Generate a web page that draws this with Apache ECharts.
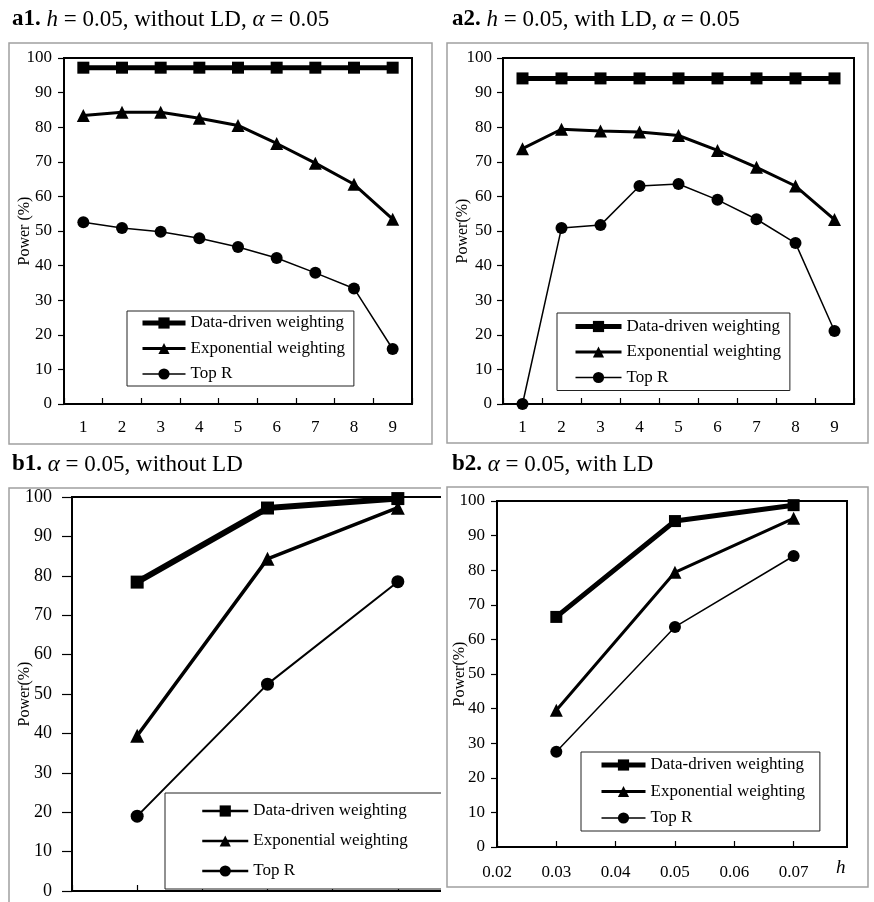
<!DOCTYPE html>
<html><head><meta charset="utf-8">
<script src="https://cdn.jsdelivr.net/npm/echarts@6/dist/echarts.min.js"></script>
<style>html,body{margin:0;padding:0;background:#fff}#c{width:874px;height:902px}</style>
</head><body><div id="c"></div>
<script>
// ---------- data ----------
const seriesNames = ['Data-driven weighting', 'Exponential weighting', 'Top R'];
const aCategories = ['1', '2', '3', '4', '5', '6', '7', '8', '9'];
const a1DataDriven = [97.2, 97.2, 97.2, 97.2, 97.2, 97.2, 97.2, 97.2, 97.2];
const a1Exponential = [83.4, 84.3, 84.3, 82.6, 80.5, 75.3, 69.6, 63.5, 53.4];
const a1TopR = [52.5, 50.9, 49.8, 47.9, 45.4, 42.2, 37.9, 33.4, 15.9];
const a2DataDriven = [94.1, 94.1, 94.1, 94.1, 94.1, 94.1, 94.1, 94.1, 94.1];
const a2Exponential = [73.8, 79.4, 78.9, 78.6, 77.6, 73.3, 68.4, 63.0, 53.3];
const a2TopR = [0, 50.9, 51.7, 63.0, 63.6, 59.0, 53.4, 46.5, 21.1];
const bH = [0.03, 0.05, 0.07];
const b1DataDriven = [78.4, 97.2, 99.6];
const b1Exponential = [39.4, 84.3, 97.3];
const b1TopR = [19.0, 52.5, 78.5];
const b2DataDriven = [66.5, 94.2, 98.8];
const b2Exponential = [39.5, 79.4, 95.0];
const b2TopR = [27.5, 63.6, 84.1];
const yMin = 0, yMax = 100, yInterval = 10;
const hMin = 0.02, hInterval = 0.01;

// ---------- styling helpers ----------
const FONT = 'Liberation Serif';
const chart = echarts.init(document.getElementById('c'), null, {renderer: 'canvas'});
const pair = (xs, ys) => xs.map((x, i) => [x, ys[i]]);

function yAxisCfg(grid, name, gap, margin, tickLen, fontSize, z) {
  return {
    gridIndex: grid, type: 'value', min: yMin, max: yMax, interval: yInterval, z: z,
    axisLine: {show: true, lineStyle: {color: '#000', width: 2}},
    axisTick: {show: true, length: tickLen, lineStyle: {color: '#000', width: 1.2}},
    splitLine: {show: false},
    axisLabel: {color: '#000', fontFamily: FONT, fontSize: fontSize, margin: margin},
    name: name, nameLocation: 'middle', nameGap: gap, nameMoveOverlap: false,
    nameTextStyle: {color: '#000', fontFamily: FONT, fontSize: 16}
  };
}
function catXAxis(grid) {
  return {
    gridIndex: grid, type: 'category', data: aCategories, boundaryGap: true,
    axisLine: {show: true, lineStyle: {color: '#000', width: 2}},
    axisTick: {show: true, inside: true, length: 6, lineStyle: {color: '#000', width: 1.2}},
    axisLabel: {color: '#000', fontFamily: FONT, fontSize: 17, margin: 15},
    splitLine: {show: false}
  };
}
function hXAxis(grid, max, z, extra) {
  return Object.assign({
    gridIndex: grid, type: 'value', min: hMin, max: max, interval: hInterval, z: z,
    axisLine: {show: true, onZero: false, lineStyle: {color: '#000', width: 2}},
    axisTick: {show: true, inside: true, length: 6, lineStyle: {color: '#000', width: 1.2}},
    axisLabel: {color: '#000', fontFamily: FONT, fontSize: 17, margin: 17, showMaxLabel: false},
    splitLine: {show: false}
  }, extra || {});
}
const styles = [
  {symbol: 'rect', size: 12, width: 5},
  {symbol: 'triangle', size: 13, width: 3},
  {symbol: 'circle', size: 12, width: 1.5}
];
function mkSeries(grid, datas, widths, sizes, z) {
  return datas.map((d, i) => ({
    name: seriesNames[i], type: 'line', xAxisIndex: grid, yAxisIndex: grid,
    data: d, symbol: styles[i].symbol, symbolSize: sizes ? sizes[i] : styles[i].size,
    showSymbol: true, z: z, clip: false,
    lineStyle: {color: '#000', width: widths ? widths[i] : styles[i].width},
    itemStyle: {color: '#000', borderWidth: 0}
  }));
}
function legendCfg(left, top, itemWidth, gap, padding, z, widths) {
  return {
    data: seriesNames.map((n, i) => ({name: n, lineStyle: {width: widths[i], color: '#000'}})),
    orient: 'vertical', left: left, top: top, z: z,
    itemWidth: itemWidth, itemHeight: 14, itemGap: gap, padding: padding,
    selectedMode: false, backgroundColor: '#fff', borderColor: '#222', borderWidth: 1,
    textStyle: {color: '#000', fontFamily: FONT, fontSize: 17, lineHeight: 17}
  };
}
function titleCfg(text, left, top, z) {
  const base = {fontFamily: FONT, fontSize: 23, color: '#000'};
  return {
    text: text, left: left, top: top, padding: 0, z: z,
    textStyle: Object.assign({fontWeight: 'normal', rich: {
      b: Object.assign({fontWeight: 'bold'}, base),
      i: Object.assign({fontStyle: 'italic'}, base),
      n: base
    }}, base)
  };
}
const thickLegend = [5, 3, 1.5];
const evenLegend = [2.5, 2.5, 2.5];

const option = {
  animation: false,
  backgroundColor: '#fff',
  title: [
    titleCfg('{b|a1.} {i|h}{n| = 0.05, without LD, }{i|α}{n| = 0.05}', 12, 8, 6),
    titleCfg('{b|a2.} {i|h}{n| = 0.05, with LD, }{i|α}{n| = 0.05}', 452, 8, 6),
    titleCfg('{b|b1.} {i|α}{n| = 0.05, without LD}', 12, 453, 6),
    titleCfg('{b|b2.} {i|α}{n| = 0.05, with LD}', 452, 453, 6)
  ],
  graphic: {elements: [
    {type: 'rect', silent: true, z: 1, shape: {x: 9, y: 43, width: 423, height: 401}, style: {fill: 'none', stroke: '#a0a0a0', lineWidth: 1.5}},
    {type: 'rect', silent: true, z: 1, shape: {x: 447, y: 43, width: 421, height: 400}, style: {fill: 'none', stroke: '#a0a0a0', lineWidth: 1.5}},
    {type: 'rect', silent: true, z: 1, shape: {x: 9, y: 488, width: 520, height: 500}, style: {fill: 'none', stroke: '#a0a0a0', lineWidth: 1.5}},
    {type: 'rect', silent: true, z: 50, shape: {x: 441, y: 478, width: 440, height: 430}, style: {fill: '#fff', stroke: 'none'}},
    {type: 'rect', silent: true, z: 55, shape: {x: 447, y: 487, width: 421, height: 400}, style: {fill: 'none', stroke: '#a0a0a0', lineWidth: 1.5}}
  ]},
  grid: [
    {left: 64, top: 58, width: 348, height: 346, show: true, borderColor: '#000', borderWidth: 2, backgroundColor: 'transparent', outerBoundsMode: 'none', containLabel: false},
    {left: 503, top: 58, width: 351, height: 346, show: true, borderColor: '#000', borderWidth: 2, backgroundColor: 'transparent', outerBoundsMode: 'none', containLabel: false},
    {left: 72, top: 497, width: 391, height: 394, show: true, borderColor: '#000', borderWidth: 2, backgroundColor: 'transparent', outerBoundsMode: 'none', containLabel: false},
    {left: 497, top: 501, width: 350, height: 346, show: true, borderColor: '#000', borderWidth: 2, backgroundColor: 'transparent', outerBoundsMode: 'none', containLabel: false, z: 60}
  ],
  xAxis: [
    catXAxis(0),
    catXAxis(1),
    hXAxis(2, 0.08, 0),
    hXAxis(3, 0.079, 60, {
      name: 'h', nameLocation: 'end', nameGap: -11, nameMoveOverlap: false,
      nameTextStyle: {color: '#000', fontFamily: FONT, fontSize: 19, fontStyle: 'italic', verticalAlign: 'top', padding: [11, 0, 0, 0]}
    })
  ],
  yAxis: [
    yAxisCfg(0, 'Power (%)', 31, 12, 6, 17, 0),
    yAxisCfg(1, 'Power(%)', 32, 11, 6, 17, 0),
    yAxisCfg(2, 'Power(%)', 39, 20, 10, 18, 0),
    yAxisCfg(3, 'Power(%)', 29, 12, 6, 17, 60)
  ],
  legend: [
    legendCfg(127, 311, 43, 8.5, [3.5, 9, 3.5, 13], 4, thickLegend),
    legendCfg(557, 313, 46, 8.5, [5, 9, 4.5, 16], 4, thickLegend),
    legendCfg(165, 793, 46, 13, [9.5, 80, 9.5, 36], 4, evenLegend),
    legendCfg(581, 752, 44, 9.5, [4.5, 15, 4.5, 18], 62, thickLegend)
  ],
  series: [].concat(
    mkSeries(0, [a1DataDriven, a1Exponential, a1TopR], null, null, 2),
    mkSeries(1, [a2DataDriven, a2Exponential, a2TopR], null, null, 2),
    mkSeries(2, [pair(bH, b1DataDriven), pair(bH, b1Exponential), pair(bH, b1TopR)], [6, 3.5, 2], [13, 14, 13], 2),
    mkSeries(3, [pair(bH, b2DataDriven), pair(bH, b2Exponential), pair(bH, b2TopR)], null, null, 61)
  )
};
chart.setOption(option);
</script>
</body></html>
